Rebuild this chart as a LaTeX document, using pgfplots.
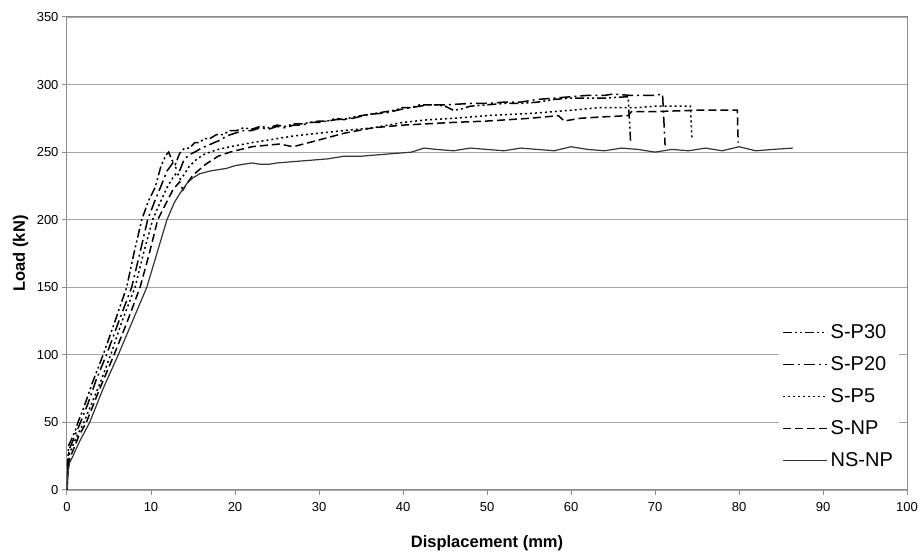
\documentclass[border=0pt]{standalone}
\usepackage{fontspec}
\setmainfont{Liberation Sans}
\usepackage{pgfplots}
\pgfplotsset{compat=1.18}
\usetikzlibrary{calc}

% load-displacement curves, one table per specimen
\pgfplotstableread{
x y
0 0
0.1 22
0.2 33
0.5 37
1.0 44
1.3 50
2.0 61
3.0 79
4.3 100
5.5 121
7.1 150
8.0 176
8.9 200
9.7 214
10.5 224
11.2 240
11.8 248
12.1 250
12.5 244
12.9 241
13.4 249
14.0 253
14.6 253
15.2 257
15.8 257
16.3 260
17.0 260
17.8 263
18.6 263
19.4 266
20.2 266
21.0 268
22.0 267
23.0 269
24.0 268
25.0 270
26.0 269
27.0 271
28.0 271
29.0 272
30.0 273
31.0 273
32.0 275
33.0 274
34.0 276
35.0 277
36.0 278
37.0 279
38.0 280
39.0 281
40.0 283
41.0 283
42.0 285
43.0 285
44.0 285
45.0 284
46.0 281
47.0 282
48.0 284
50.0 285
52.0 286
54.0 286
56.0 287
58.0 289
60.0 290
62.0 290
64.0 290
66.8 291
67.1 257
}\spthirty

\pgfplotstableread{
x y
0 0
0.1 18
0.25 30
0.6 35
1.0 41
1.6 50
2.5 64
3.5 82
4.7 100
6.0 122
7.7 150
8.7 176
9.6 200
10.4 213
11.2 225
11.9 236
12.6 242
13.0 238
13.4 236
13.9 244
14.5 248
15.2 250
16.0 253
16.8 255
17.5 257
18.3 259
19.0 262
20.0 264
21.0 266
22.0 266
23.0 268
24.0 267
25.0 269
26.0 268
27.0 270
28.0 270
29.0 272
30.0 272
32.0 274
34.0 275
36.0 278
38.0 279
40.0 282
42.0 284
43.0 285
45.0 285
48.0 286
50.0 286
52.0 287
54.0 287
56.0 289
58.0 290
60.0 291
62.0 292
64.0 292
65.0 293
67.0 292
68.0 292
70.0 292
70.9 293
71.2 255
}\sptwenty

\pgfplotstableread{
x y
0 0
0.1 15
0.3 27
0.7 33
1.2 40
2.0 50
3.0 65
4.0 80
5.2 100
6.5 124
8.1 150
9.1 175
10.2 200
11.1 213
12.0 225
12.6 231
13.1 235
13.5 230
13.9 233
14.5 239
15.3 244
16.2 248
17.0 250
18.0 252
19.4 254
22.0 257
25.0 260
27.0 262
30.0 264
33.0 266
36.4 268
40.0 272
43.0 274
46.0 275
50.0 277
53.0 278
56.0 279
60.0 281
63.5 283
66.0 283
68.0 283
70.0 284
72.0 284
74.2 284
74.4 259
}\spfive

\pgfplotstableread{
x y
0 0
0.1 12
0.3 23
0.7 29
1.4 40
2.3 50
3.9 75
5.6 100
7.2 125
8.7 150
9.8 175
10.8 200
11.7 211
12.6 222
13.4 228
13.8 222
14.3 227
15.0 233
16.5 241
18.0 247
19.4 250
22.0 254
25.3 256
26.9 254
30.0 259
33.0 264
36.4 268
40.0 270
43.0 271
46.0 272
50.0 273
55.0 275
58.5 277
59.2 273
61.0 275
63.5 276
66.8 277
67.2 280
70.0 280
75.0 281
79.8 281
79.9 257
}\snp

\pgfplotstableread{
x y
0 0
0.1 12
0.3 20
0.7 25
1.5 36
2.7 50
4.3 75
6.1 100
7.8 125
9.5 150
10.7 175
11.9 200
12.8 213
13.5 220
14.3 227
15.0 231
15.8 234
17.0 236
18.0 237
19.0 238
20.0 240
21.0 241
22.0 242
23.0 241
24.0 241
25.0 242
27.0 243
29.0 244
31.0 245
33.0 247
35.0 247
37.0 248
39.0 249
41.0 250
42.5 253
44.0 252
46.0 251
48.0 253
50.0 252
52.0 251
54.0 253
56.0 252
58.0 251
60.0 254
62.0 252
64.0 251
66.0 253
68.0 252
70.0 250
72.0 252
74.0 251
76.0 253
78.0 251
80.0 254
82.0 251
84.0 252
86.4 253
}\nsnp

\begin{document}
\begin{tikzpicture}
\begin{axis}[
  scale only axis,
  width=840pt, height=473pt,
  xmin=0, xmax=100, ymin=0, ymax=350,
  xtick={0,10,...,100}, ytick={0,50,...,350},
  xtick pos=left, ytick pos=left,
  tick align=outside, major tick length=5pt,
  ymajorgrids,
  grid style={black!35, line width=0.9pt},
  axis line style={black!45, line width=1pt},
  tick style={black!45, line width=1pt},
  ticklabel style={font=\fontsize{13}{15}\selectfont},
  xticklabel style={yshift=-4pt},
  /pgf/number format/assume math mode=true,
  xlabel={Displacement (mm)},
  ylabel={Load (kN)},
  every axis x label/.style={at={(axis description cs:0.5,0)}, yshift=-53pt, anchor=center,
    font=\fontsize{16.5}{19}\selectfont\bfseries},
  every axis y label/.style={at={(axis description cs:0,0.5)}, xshift=-46.5pt, rotate=90, anchor=center,
    font=\fontsize{16.5}{19}\selectfont\bfseries},
  legend cell align=left,
  legend image code/.code={\draw[#1] (0pt,0pt) -- (44pt,0pt);},
  legend style={at={(axis description cs:0.8476,0.3636)}, anchor=north west,
    draw=none, fill=white, font=\fontsize{20}{24}\selectfont,
    row sep=7pt, nodes={inner sep=3pt, text height=15pt, text depth=4pt}},
]
\addplot[black, line width=1.5pt, dash pattern=on 9pt off 3pt on 2pt off 3pt on 2pt off 3pt] table[x=x,y=y]{\spthirty};
\addlegendentry{S-P30}
\addplot[black, line width=1.5pt, dash pattern=on 11pt off 4pt on 2pt off 4pt] table[x=x,y=y]{\sptwenty};
\addlegendentry{S-P20}
\addplot[black, line width=1.5pt, dash pattern=on 2pt off 3pt] table[x=x,y=y]{\spfive};
\addlegendentry{S-P5}
\addplot[black, line width=1.5pt, dash pattern=on 8pt off 4pt] table[x=x,y=y]{\snp};
\addlegendentry{S-NP}
\addplot[black!80, line width=1.2pt] table[x=x,y=y]{\nsnp};
\addlegendentry{NS-NP}
\end{axis}
\pgfresetboundingbox
\path ($(current axis.south west)+(-67pt,-63pt)$) rectangle ($(current axis.north east)+(13pt,17pt)$);
\end{tikzpicture}
\end{document}
